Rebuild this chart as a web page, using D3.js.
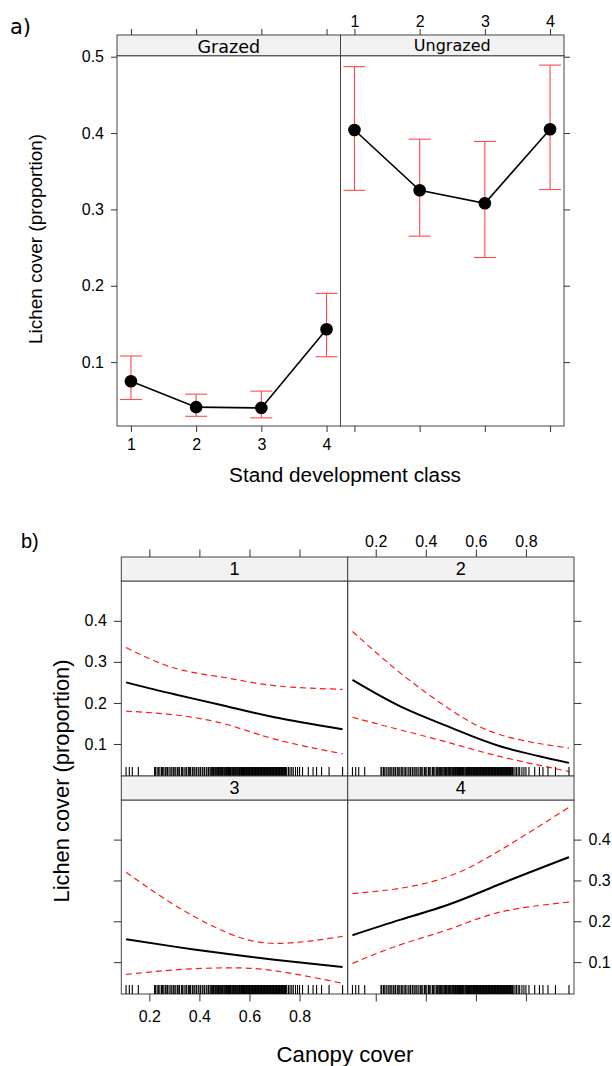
<!DOCTYPE html>
<html>
<head>
<meta charset="utf-8">
<script src="https://cdn.jsdelivr.net/npm/d3@7"></script>
<style>
body { margin: 0; background: #fff; }
svg { display: block; }
</style>
</head>
<body>
<svg id="frame" width="612" height="1066"></svg>
<script>
// ---------- data, panel a ----------
const standClass = [1, 2, 3, 4];
const grazing = ["Grazed", "Ungrazed"];
const grazedMean = [0.075, 0.041, 0.040, 0.143];
const grazedLow = [0.051, 0.029, 0.027, 0.107];
const grazedHigh = [0.108, 0.058, 0.062, 0.190];
const ungrazedMean = [0.404, 0.325, 0.308, 0.405];
const ungrazedLow = [0.325, 0.265, 0.237, 0.326];
const ungrazedHigh = [0.487, 0.392, 0.389, 0.489];
const yTicksA = [0.1, 0.2, 0.3, 0.4, 0.5];

// ---------- data, panel b ----------
const classLabels = ["1", "2", "3", "4"];
const canopy = [0.107, 0.3, 0.5, 0.7, 0.972];
const fit1 = [0.250, 0.221, 0.193, 0.165, 0.136];
const up1 = [0.335, 0.285, 0.262, 0.242, 0.233];
const lo1 = [0.180, 0.171, 0.149, 0.112, 0.076];
const fit2 = [0.256, 0.191, 0.140, 0.094, 0.054];
const up2 = [0.374, 0.272, 0.183, 0.122, 0.090];
const lo2 = [0.165, 0.134, 0.102, 0.069, 0.033];
const fit3 = [0.156, 0.138, 0.121, 0.106, 0.088];
const up3 = [0.320, 0.240, 0.175, 0.146, 0.163];
const lo3 = [0.070, 0.081, 0.086, 0.079, 0.048];
const fit4 = [0.166, 0.204, 0.243, 0.292, 0.357];
const up4 = [0.268, 0.281, 0.312, 0.375, 0.479];
const lo4 = [0.097, 0.143, 0.182, 0.223, 0.247];
const rugCanopy = [
  0.107, 0.120, 0.132, 0.156,
  0.221, 0.224, 0.231, 0.236, 0.242, 0.249, 0.253, 0.258, 0.264, 0.270, 0.273, 0.279,
  0.286, 0.290, 0.296, 0.302, 0.306, 0.313, 0.318, 0.321, 0.329, 0.333, 0.339, 0.346,
  0.349, 0.356, 0.361, 0.365, 0.372, 0.378, 0.382, 0.388, 0.395, 0.398, 0.404, 0.411,
  0.414, 0.420, 0.427, 0.430, 0.436, 0.442, 0.446, 0.449, 0.453, 0.456, 0.458, 0.462,
  0.465, 0.469, 0.473, 0.476, 0.479, 0.482, 0.485, 0.489, 0.492, 0.494, 0.498, 0.501,
  0.505, 0.508, 0.510, 0.513, 0.516, 0.519, 0.521, 0.524, 0.527, 0.531, 0.534, 0.536,
  0.539, 0.542, 0.545, 0.547, 0.550, 0.553, 0.557, 0.560, 0.563, 0.566, 0.568, 0.571,
  0.573, 0.575, 0.577, 0.580, 0.582, 0.585, 0.588, 0.590, 0.593, 0.595, 0.597, 0.600,
  0.602, 0.605, 0.607, 0.609, 0.612, 0.614, 0.617, 0.619, 0.621, 0.624, 0.626, 0.629,
  0.631, 0.633, 0.636, 0.638, 0.641, 0.643, 0.645, 0.648, 0.650, 0.653, 0.655, 0.657,
  0.660, 0.662, 0.665, 0.667, 0.669, 0.672, 0.674, 0.677, 0.679, 0.681, 0.684, 0.686,
  0.689, 0.691, 0.693, 0.696, 0.698, 0.701, 0.703, 0.705, 0.708, 0.710, 0.713, 0.715,
  0.717, 0.720, 0.722, 0.725, 0.727, 0.729, 0.732, 0.734, 0.737, 0.739, 0.741, 0.744,
  0.746, 0.749, 0.756, 0.762, 0.769, 0.775, 0.784, 0.792, 0.800, 0.812,
  0.835, 0.854, 0.868, 0.888, 0.918, 0.972
];
const xTicksB = [0.2, 0.4, 0.6, 0.8];
const yTicksB = [0.1, 0.2, 0.3, 0.4];

const svg = d3.select("#frame");
const fontA = "DejaVu Sans";
const fontB = "Liberation Sans, Arial, sans-serif";
const frameCol = "#444";
const stripFill = "#f2f2f2";

function styleAxis(g, font, size) {
  g.attr("font-family", font).attr("font-size", size);
  g.select(".domain").remove();
  g.selectAll(".tick line").attr("stroke", "#333");
  g.selectAll(".tick text").attr("fill", "#000");
}

// scale a title's font so it spans the width
function fitTitle(t, width) {
  const size = +t.attr("font-size");
  const len = t.node().getComputedTextLength();
  t.attr("font-size", (size * width / len).toFixed(2));
}

// ================= panel a =================
const aTop = 55.7, aBottom = 426, aStripH = 20.7, aW = 223.5;
const aLefts = [117, 340.5];
const aMeans = [grazedMean, ungrazedMean];
const aLows = [grazedLow, ungrazedLow];
const aHighs = [grazedHigh, ungrazedHigh];
const yA = d3.scaleLinear().domain([0.0163, 0.5013]).range([aBottom, aTop]);

grazing.forEach((name, i) => {
  const x = d3.scaleLinear().domain([0.786, 4.214]).range([aLefts[i], aLefts[i] + aW]);
  const g = svg.append("g");

  g.append("rect")
    .attr("x", aLefts[i]).attr("y", aTop)
    .attr("width", aW).attr("height", aBottom - aTop)
    .attr("fill", "none").attr("stroke", frameCol);

  g.append("rect")
    .attr("x", aLefts[i]).attr("y", aTop - aStripH)
    .attr("width", aW).attr("height", aStripH)
    .attr("fill", stripFill).attr("stroke", frameCol);
  g.append("text")
    .attr("x", aLefts[i] + aW / 2)
    .attr("y", i === 0 ? 52.5 : 51)
    .attr("text-anchor", "middle")
    .attr("font-family", fontA)
    .attr("font-size", i === 0 ? 17.5 : 16)
    .text(name);

  // error bars
  const bars = g.append("g").attr("stroke", "#ff4a4a").attr("stroke-width", 1.1);
  bars.selectAll("line.v").data(standClass).join("line")
    .attr("x1", d => x(d)).attr("x2", d => x(d))
    .attr("y1", (d, j) => yA(aLows[i][j])).attr("y2", (d, j) => yA(aHighs[i][j]));
  bars.selectAll("line.lo").data(standClass).join("line")
    .attr("x1", d => x(d) - 11).attr("x2", d => x(d) + 11)
    .attr("y1", (d, j) => yA(aLows[i][j])).attr("y2", (d, j) => yA(aLows[i][j]));
  bars.selectAll("line.hi").data(standClass).join("line")
    .attr("x1", d => x(d) - 11).attr("x2", d => x(d) + 11)
    .attr("y1", (d, j) => yA(aHighs[i][j])).attr("y2", (d, j) => yA(aHighs[i][j]));

  g.append("path")
    .datum(standClass)
    .attr("fill", "none").attr("stroke", "#000").attr("stroke-width", 1.6)
    .attr("d", d3.line().x(d => x(d)).y((d, j) => yA(aMeans[i][j])));

  g.selectAll("circle").data(standClass).join("circle")
    .attr("cx", d => x(d)).attr("cy", (d, j) => yA(aMeans[i][j]))
    .attr("r", 6.3).attr("fill", "#000");

  // bottom and top axes, labels alternate
  const bottom = svg.append("g").attr("transform", `translate(0,${aBottom})`)
    .call(d3.axisBottom(x).tickValues(standClass).tickSize(6).tickPadding(7)
      .tickFormat(i === 0 ? d3.format("d") : ""));
  styleAxis(bottom, fontB, 16);
  const top = svg.append("g").attr("transform", `translate(0,${aTop - aStripH})`)
    .call(d3.axisTop(x).tickValues(standClass).tickSize(6).tickPadding(2.5)
      .tickFormat(i === 1 ? d3.format("d") : ""));
  styleAxis(top, fontB, 16);
});

const leftA = svg.append("g").attr("transform", `translate(${aLefts[0]},0)`)
  .call(d3.axisLeft(yA).tickValues(yTicksA).tickSize(6).tickPadding(7).tickFormat(d3.format(".1f")));
styleAxis(leftA, fontB, 16);
const rightA = svg.append("g").attr("transform", `translate(${aLefts[1] + aW},0)`)
  .call(d3.axisRight(yA).tickValues(yTicksA).tickSize(6).tickFormat(""));
styleAxis(rightA, fontB, 16);

svg.append("text").attr("x", 10).attr("y", 34)
  .attr("font-family", fontA).attr("font-size", 21).text("a)");
const yTitleA = svg.append("text")
  .attr("transform", "translate(42,239) rotate(-90)")
  .attr("text-anchor", "middle")
  .attr("font-family", fontB).attr("font-size", 19)
  .text("Lichen cover (proportion)");
fitTitle(yTitleA, 210);
const xTitleA = svg.append("text").attr("x", 345).attr("y", 482)
  .attr("text-anchor", "middle")
  .attr("font-family", fontB).attr("font-size", 20.5)
  .text("Stand development class");
fitTitle(xTitleA, 232);

// ================= panel b =================
const bLefts = [121.3, 347.7], bW = 226.3;
const bTops = [581, 800], bBottoms = [776, 994], bStripH = 24;
const fits = [fit1, fit2, fit3, fit4];
const ups = [up1, up2, up3, up4];
const los = [lo1, lo2, lo3, lo4];

classLabels.forEach((lab, k) => {
  const col = k % 2, row = Math.floor(k / 2);
  const x = d3.scaleLinear().domain([0.088, 0.992]).range([bLefts[col], bLefts[col] + bW]);
  const y = d3.scaleLinear().domain([0.022, 0.497]).range([bBottoms[row], bTops[row]]);
  const g = svg.append("g");

  g.append("rect")
    .attr("x", bLefts[col]).attr("y", bTops[row])
    .attr("width", bW).attr("height", bBottoms[row] - bTops[row])
    .attr("fill", "none").attr("stroke", frameCol);
  g.append("rect")
    .attr("x", bLefts[col]).attr("y", bTops[row] - bStripH)
    .attr("width", bW).attr("height", bStripH)
    .attr("fill", stripFill).attr("stroke", frameCol);
  g.append("text")
    .attr("x", bLefts[col] + bW / 2)
    .attr("y", bTops[row] - bStripH / 2 + 6.4)
    .attr("text-anchor", "middle")
    .attr("font-family", fontB).attr("font-size", 18)
    .text(lab);

  const line = (vals) => d3.line()
    .x((d, j) => x(d)).y((d, j) => y(vals[j]))
    .curve(d3.curveNatural)(canopy);

  [ups[k], los[k]].forEach(vals => {
    g.append("path").attr("d", line(vals))
      .attr("fill", "none").attr("stroke", "#ff1a1a").attr("stroke-width", 1.2)
      .attr("stroke-dasharray", "6,4");
  });
  g.append("path").attr("d", line(fits[k]))
    .attr("fill", "none").attr("stroke", "#000").attr("stroke-width", 2);

  // rug
  g.append("g").attr("stroke", "#000").attr("stroke-width", 1.1)
    .selectAll("line").data(rugCanopy).join("line")
    .attr("x1", d => x(d)).attr("x2", d => x(d))
    .attr("y1", bBottoms[row]).attr("y2", bBottoms[row] - 9);

  // axes: labels alternate between sides
  if (row === 0) {
    const top = svg.append("g").attr("transform", `translate(0,${bTops[0] - bStripH})`)
      .call(d3.axisTop(x).tickValues(xTicksB).tickSize(7.5).tickPadding(2.5)
        .tickFormat(col === 1 ? d3.format(".1f") : ""));
    styleAxis(top, fontB, 16);
  } else {
    const bottom = svg.append("g").attr("transform", `translate(0,${bBottoms[1]})`)
      .call(d3.axisBottom(x).tickValues(xTicksB).tickSize(7.5).tickPadding(9)
        .tickFormat(col === 0 ? d3.format(".1f") : ""));
    styleAxis(bottom, fontB, 16);
  }
  if (col === 0) {
    const left = svg.append("g").attr("transform", `translate(${bLefts[0]},0)`)
      .call(d3.axisLeft(y).tickValues(yTicksB).tickSize(7.5).tickPadding(7)
        .tickFormat(row === 0 ? d3.format(".1f") : ""));
    styleAxis(left, fontB, 16);
  } else {
    const right = svg.append("g").attr("transform", `translate(${bLefts[1] + bW},0)`)
      .call(d3.axisRight(y).tickValues(yTicksB).tickSize(7.5).tickPadding(7)
        .tickFormat(row === 1 ? d3.format(".1f") : ""));
    styleAxis(right, fontB, 16);
  }
});

svg.append("text").attr("x", 21).attr("y", 548)
  .attr("font-family", fontB).attr("font-size", 20).text("b)");
const yTitleB = svg.append("text")
  .attr("transform", "translate(69,781) rotate(-90)")
  .attr("text-anchor", "middle")
  .attr("font-family", fontB).attr("font-size", 22)
  .text("Lichen cover (proportion)");
fitTitle(yTitleB, 243);
const xTitleB = svg.append("text").attr("x", 345).attr("y", 1062)
  .attr("text-anchor", "middle")
  .attr("font-family", fontB).attr("font-size", 22)
  .text("Canopy cover");
fitTitle(xTitleB, 137);
</script>
</body>
</html>
